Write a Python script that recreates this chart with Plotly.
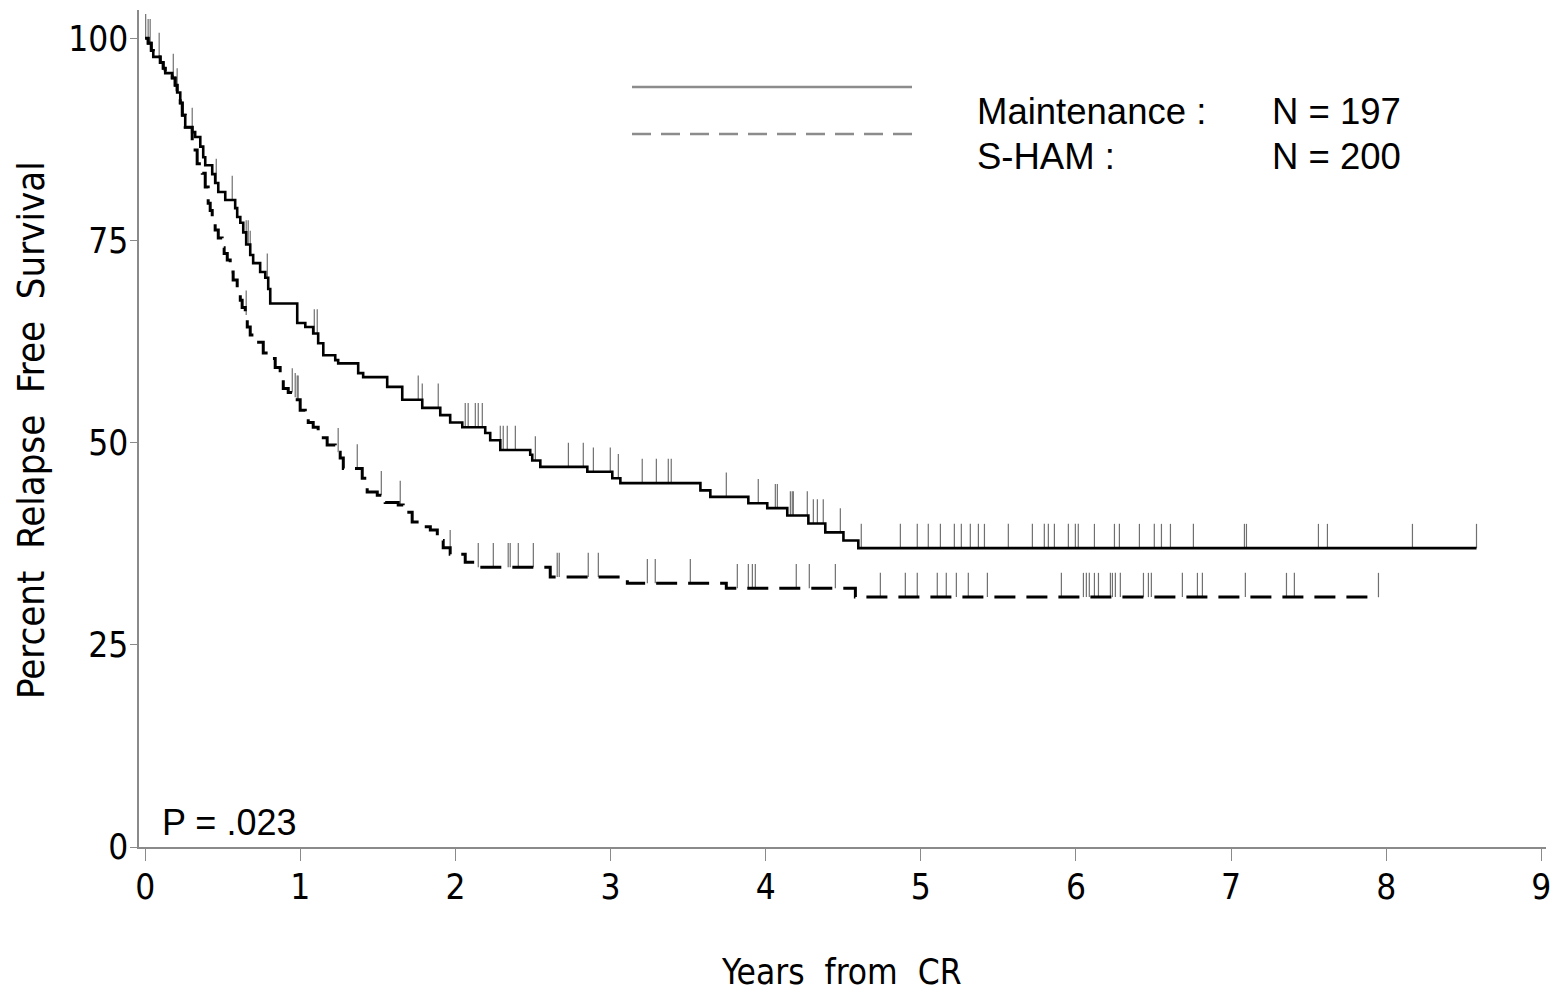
import numpy as np
import plotly.graph_objects as go

# ---------------- data ----------------
maint_times = [0.0, 0.019, 0.039, 0.052, 0.097, 0.116, 0.129, 0.174, 0.193, 0.206, 0.226, 0.239,
               0.258, 0.303, 0.322, 0.355, 0.374, 0.387, 0.432, 0.451, 0.471, 0.516, 0.580, 0.593,
               0.613, 0.632, 0.651, 0.677, 0.696, 0.741, 0.774, 0.793, 0.806, 0.980, 1.032, 1.083,
               1.115, 1.148, 1.225, 1.244, 1.373, 1.405, 1.560, 1.657, 1.786, 1.902, 1.966, 2.044,
               2.192, 2.224, 2.289, 2.482, 2.495, 2.547, 2.850, 3.011, 3.063, 3.579, 3.643, 3.888,
               4.010, 4.139, 4.275, 4.384, 4.501, 4.597]
maint_surv = [100.0, 99.4, 98.5, 97.7, 97.0, 96.3, 95.7, 95.1, 94.2, 93.3, 92.0, 90.5,
              89.0, 88.4, 87.8, 86.6, 85.3, 84.3, 83.2, 82.1, 81.0, 80.0, 79.0, 77.9,
              77.2, 76.0, 74.5, 73.2, 72.2, 71.1, 70.4, 69.0, 67.2, 64.8, 64.3, 63.5,
              62.3, 60.8, 60.2, 59.8, 58.6, 58.1, 56.9, 55.3, 54.3, 53.4, 52.5, 51.9,
              51.2, 50.3, 49.1, 48.5, 47.8, 47.0, 46.4, 45.6, 45.0, 44.1, 43.3, 42.5,
              41.9, 41.0, 40.0, 38.9, 37.9, 36.96]
maint_end = 8.582
maint_censor = [0.003, 0.019, 0.032, 0.090, 0.181, 0.206, 0.303, 0.458, 0.561, 0.651, 0.664, 0.677,
                0.787, 1.090, 1.109, 1.760, 1.786, 1.889, 2.063, 2.082, 2.128, 2.147, 2.173, 2.289,
                2.308, 2.334, 2.386, 2.515, 2.728, 2.824, 2.889, 2.998, 3.050, 3.204, 3.295, 3.372,
                3.391, 3.746, 3.952, 4.062, 4.075, 4.159, 4.171, 4.178, 4.268, 4.307, 4.333, 4.371,
                4.481, 4.616, 4.868, 4.977, 5.048, 5.126, 5.216, 5.261, 5.319, 5.371, 5.410, 5.564,
                5.719, 5.796, 5.822, 5.861, 5.951, 5.996, 6.015, 6.119, 6.248, 6.280, 6.409, 6.505,
                6.551, 6.609, 6.757, 7.086, 7.099, 7.563, 7.621, 8.169, 8.582]

sham_times = [0.0, 0.019, 0.039, 0.052, 0.097, 0.116, 0.129, 0.174, 0.193, 0.206, 0.226, 0.239,
              0.258, 0.303, 0.335, 0.368, 0.387, 0.406, 0.419, 0.432, 0.451, 0.471, 0.496, 0.509,
              0.529, 0.548, 0.567, 0.593, 0.613, 0.625, 0.645, 0.658, 0.677, 0.709, 0.761, 0.806,
              0.838, 0.870, 0.890, 0.922, 0.954, 0.980, 0.999, 1.032, 1.051, 1.083, 1.115, 1.148,
              1.173, 1.225, 1.257, 1.277, 1.399, 1.431, 1.496, 1.547, 1.631, 1.663, 1.721, 1.773,
              1.838, 1.883, 1.921, 1.966, 2.063, 2.128, 2.611, 3.108, 3.746, 4.578]
sham_surv = [100.0, 99.4, 98.5, 97.7, 97.0, 96.3, 95.7, 95.1, 94.2, 93.3, 92.0, 90.5,
             89.0, 86.2, 84.5, 83.3, 81.6, 79.6, 78.7, 77.8, 76.3, 75.3, 74.1, 73.4,
             72.6, 71.1, 70.1, 68.9, 67.6, 66.7, 65.8, 64.3, 63.3, 62.4, 61.1, 60.4,
             59.3, 58.3, 56.7, 56.2, 55.6, 55.3, 54.0, 53.0, 52.5, 51.9, 51.3, 50.6,
             49.7, 48.8, 48.1, 46.8, 45.6, 43.9, 43.5, 42.6, 42.3, 41.4, 40.2, 39.6,
             39.2, 37.9, 37.0, 36.2, 35.2, 34.6, 33.4, 32.6, 32.0, 30.9]
sham_end = 7.950
sham_censor = [0.651, 0.948, 0.967, 0.980, 0.986, 1.244, 1.367, 1.522, 1.644, 1.966, 2.147, 2.244,
               2.340, 2.353, 2.405, 2.502, 2.656, 2.669, 2.856, 2.921, 3.237, 3.288, 3.514, 3.817,
               3.888, 3.914, 3.933, 4.197, 4.281, 4.449, 4.739, 4.900, 4.977, 5.106, 5.164, 5.229,
               5.306, 5.429, 5.906, 6.048, 6.067, 6.086, 6.119, 6.145, 6.222, 6.235, 6.254, 6.286,
               6.435, 6.467, 6.486, 6.686, 6.783, 6.815, 7.092, 7.357, 7.408, 7.950]

x_ticks = [0, 1, 2, 3, 4, 5, 6, 7, 8, 9]
y_ticks = [0, 25, 50, 75, 100]

legend_names = ["Maintenance :", "S-HAM :"]
legend_counts = ["N = 197", "N = 200"]
p_value_text = "P = .023"

# ---------------- helpers ----------------
def step_xy(times, surv, end):
    return list(times) + [end], list(surv) + [surv[-1]]


def censor_xy(times, surv, cens, h=3.0):
    t_arr = np.asarray(times)
    xs, ys = [], []
    for t in cens:
        i = max(int(np.searchsorted(t_arr, t, side="right")) - 1, 0)
        lv = surv[i]
        xs += [t, t, None]
        ys += [lv, lv + h, None]
    return xs, ys


NARROW = "DejaVu Sans Condensed, Liberation Sans Narrow, sans-serif"
ARIAL = "Liberation Sans, Arial, sans-serif"

fig = go.Figure()

# censor ticks
for times, surv, cens in [(maint_times, maint_surv, maint_censor),
                          (sham_times, sham_surv, sham_censor)]:
    cx, cy = censor_xy(times, surv, cens)
    fig.add_trace(go.Scatter(x=cx, y=cy, mode="lines", line=dict(color="#707070", width=1.2),
                             hoverinfo="skip", showlegend=False, cliponaxis=False))

mx, my = step_xy(maint_times, maint_surv, maint_end)
fig.add_trace(go.Scatter(x=mx, y=my, mode="lines", line_shape="hv",
                         line=dict(color="black", width=2.6), name="Maintenance",
                         showlegend=False, cliponaxis=False))
sx, sy = step_xy(sham_times, sham_surv, sham_end)
fig.add_trace(go.Scatter(x=sx, y=sy, mode="lines", line_shape="hv",
                         line=dict(color="black", width=3, dash="21px,11px"), name="S-HAM",
                         showlegend=False, cliponaxis=False))

W, H = 1557, 996
L, R, T, B = 139, 11, 10, 149
pw, ph = W - L - R, H - T - B


def px(xp):
    return (xp - L) / pw


def py(yp):
    return (H - B - yp) / ph


# legend lines
fig.add_shape(type="line", xref="paper", yref="paper", x0=px(632), x1=px(912), y0=py(87), y1=py(87),
              line=dict(color="#8c8c8c", width=2.5))
fig.add_shape(type="line", xref="paper", yref="paper", x0=px(632), x1=px(912), y0=py(134), y1=py(134),
              line=dict(color="#8c8c8c", width=2.5, dash="19px,10px"))

for i, (nm, cnt) in enumerate(zip(legend_names, legend_counts)):
    ycen = 111 + 45 * i
    fig.add_annotation(x=px(975), y=py(ycen), xref="paper", yref="paper", text=nm, showarrow=False,
                       xanchor="left", yanchor="middle", font=dict(family=ARIAL, size=36.5, color="black"))
    fig.add_annotation(x=px(1270), y=py(ycen), xref="paper", yref="paper", text=cnt, showarrow=False,
                       xanchor="left", yanchor="middle", font=dict(family=ARIAL, size=36.5, color="black"))

fig.add_annotation(x=px(160), y=py(822), xref="paper", yref="paper", text=p_value_text, showarrow=False,
                   xanchor="left", yanchor="middle", font=dict(family=ARIAL, size=36, color="black"))

fig.add_annotation(x=px(841), y=py(972), xref="paper", yref="paper",
                   text="Years\u00a0 from\u00a0 CR", showarrow=False,
                   xanchor="center", yanchor="middle", font=dict(family=NARROW, size=35, color="black"))
fig.add_annotation(x=px(31), y=py(430), xref="paper", yref="paper",
                   text="Percent\u00a0 Relapse\u00a0 Free\u00a0 Survival", showarrow=False, textangle=-90,
                   xanchor="center", yanchor="middle", font=dict(family=NARROW, size=38, color="black"))

fig.update_layout(
    width=W, height=H, margin=dict(l=L, r=R, t=T, b=B, autoexpand=False),
    paper_bgcolor="white", plot_bgcolor="white", showlegend=False,
    xaxis=dict(range=[-0.04, 9.03], tickvals=x_ticks, ticktext=[str(v) for v in x_ticks],
               showgrid=False, zeroline=False, showline=True, linecolor="#8a8a8a", linewidth=1.5,
               ticks="outside", ticklen=12, tickwidth=1.3, tickcolor="#8a8a8a", ticklabelstandoff=-4,
               tickfont=dict(family=NARROW, size=35, color="black")),
    yaxis=dict(range=[0, 103.5], tickvals=y_ticks, ticktext=[str(v) for v in y_ticks],
               showgrid=False, zeroline=False, showline=True, linecolor="#8a8a8a", linewidth=1.5,
               ticks="outside", ticklen=7, tickwidth=1.3, tickcolor="#8a8a8a", ticklabelstandoff=-5,
               tickfont=dict(family=NARROW, size=35, color="black")),
)

fig.write_html("out.html")
